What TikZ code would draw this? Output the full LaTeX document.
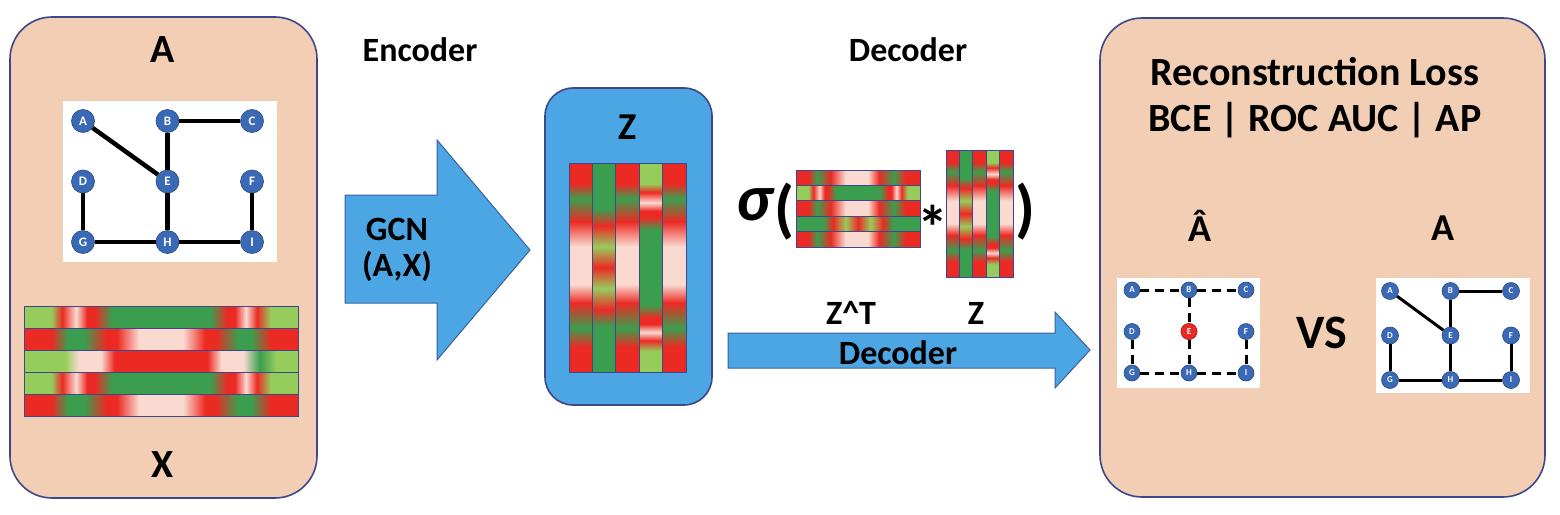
\documentclass[tikz,border=0pt]{standalone}
\usepackage{fontspec}
\setmainfont{Carlito}
\definecolor{peach}{RGB}{242,206,180}
\definecolor{navy}{RGB}{62,70,140}
\definecolor{skyblue}{RGB}{76,166,228}
\definecolor{arrowedge}{RGB}{58,96,158}
\definecolor{nodeblue}{RGB}{58,106,182}
\definecolor{hotred}{RGB}{236,42,36}
\definecolor{dkgreen}{RGB}{58,158,78}
\definecolor{ltgreen}{RGB}{150,204,92}
\definecolor{blush}{RGB}{250,218,208}
% stripe patterns (25bp..75bp span the cell)
\pgfdeclarehorizontalshading{xg}{100bp}{color(0bp)=(ltgreen); color(30bp)=(ltgreen); color(32bp)=(hotred); color(34.5bp)=(blush); color(36.5bp)=(hotred); color(38bp)=(hotred); color(41bp)=(dkgreen); color(59bp)=(dkgreen); color(62bp)=(hotred); color(63.5bp)=(hotred); color(65.5bp)=(blush); color(67.5bp)=(hotred); color(70bp)=(ltgreen); color(100bp)=(ltgreen)}
\pgfdeclarehorizontalshading{xr}{100bp}{color(0bp)=(hotred); color(30bp)=(hotred); color(33bp)=(dkgreen); color(36bp)=(dkgreen); color(40bp)=(hotred); color(42bp)=(hotred); color(46bp)=(blush); color(54bp)=(blush); color(58bp)=(hotred); color(60bp)=(hotred); color(64bp)=(dkgreen); color(66.5bp)=(dkgreen); color(70bp)=(hotred); color(100bp)=(hotred)}
\pgfdeclarehorizontalshading{xm}{100bp}{color(0bp)=(ltgreen); color(32.5bp)=(ltgreen); color(35bp)=(blush); color(39bp)=(blush); color(41.5bp)=(hotred); color(58.5bp)=(hotred); color(61bp)=(blush); color(65bp)=(blush); color(68bp)=(dkgreen); color(71bp)=(ltgreen); color(100bp)=(ltgreen)}
\pgfdeclarehorizontalshading{zr}{100bp}{color(0bp)=(hotred); color(30bp)=(hotred); color(33.5bp)=(dkgreen); color(39bp)=(hotred); color(45bp)=(blush); color(54bp)=(blush); color(58.5bp)=(hotred); color(64.5bp)=(dkgreen); color(69bp)=(hotred); color(100bp)=(hotred)}
\pgfdeclarehorizontalshading{zd}{100bp}{color(0bp)=(dkgreen); color(36bp)=(dkgreen); color(40bp)=(hotred); color(45bp)=(ltgreen); color(50bp)=(hotred); color(55bp)=(ltgreen); color(60bp)=(hotred); color(64bp)=(dkgreen); color(100bp)=(dkgreen)}

\begin{document}
\begin{tikzpicture}[x=1pt,y=-1pt,
  lbl/.style={font=\bfseries\fontsize{34}{36}\selectfont},
  biglbl/.style={font=\bfseries\fontsize{40}{42}\selectfont},
  panel/.style={fill=peach,draw=navy,line width=1.6pt,rounded corners=42pt},
  zbox/.style={fill=skyblue,draw=navy,line width=1.6pt,rounded corners=28pt},
  vtx/.style={circle,fill=nodeblue,draw=nodeblue!70!black,line width=0.6pt,text=white,inner sep=0pt},
  link/.style={line width=4.5pt},
  dlink/.style={line width=3pt,dash pattern=on 9pt off 6pt},
  cell/.style={draw=navy,line width=1pt},
  bluearrow/.style={fill=skyblue,draw=arrowedge,line width=1pt,line join=miter}]
  \useasboundingbox (0,0) rectangle (1560,514);
  % --- input panel ---
  \draw[panel] (10,17) rectangle (317,498);
  \node[biglbl] (lblA) at (163,50) {A};
  \node[biglbl] (lblX) at (163,465) {X};
  \fill[white] (63,101) rectangle (277,262);
  \begin{scope}[shift={(83,121)},x=84.5pt,y=-60.5pt]
    \foreach \n/\c/\r in {A/0/0,B/1/0,C/2/0,D/0/1,E/1/1,F/2/1,G/0/2,H/1/2,I/2/2}
      \node[vtx,minimum size=23pt,font=\bfseries\fontsize{13}{13}\selectfont] (in\n) at (\c,\r) {\n};
  \end{scope}
  \foreach \u/\v in {A/E,B/C,B/E,E/H,D/G,G/H,H/I,F/I} \draw[link] (in\u) -- (in\v);
  \foreach \s [count=\i from 0] in {xg,xr,xm,xg,xr}
    \shadedraw[shading=\s,cell] (24,{306+22*\i}) rectangle (298,{328+22*\i});
  % --- encoder ---
  \node[lbl] (enc) at (420,50) {Encoder};
  \filldraw[bluearrow] (345,195) -- (437,195) -- (437,140) -- (530,250) -- (437,360) -- (437,303) -- (345,303) -- cycle;
  \node[lbl,align=center] (gcn) at (397,250) {GCN\\(A,X)};
  \draw[zbox] (545,88) rectangle (712,405);
  \node[font=\bfseries\fontsize{38}{40}\selectfont] (lblZ) at (628,127) {Z};
  \foreach \s [count=\i from 0] in {zr,zd,zr,xg,zr}
    \shadedraw[shading=\s,shading angle=270,cell] ({569+23.4*\i},163) rectangle ({592.4+23.4*\i},372);
  % --- decoder ---
  \node[lbl] (dec) at (908,50) {Decoder};
  \node[font=\bfseries\itshape\fontsize{66}{66}\selectfont,inner sep=0pt] (sig) at (754,205) {σ};
  \node[font=\bfseries\fontsize{64}{64}\selectfont,inner sep=0pt] (opar) at (784,212) {(};
  \foreach \s [count=\i from 0] in {zr,xg,zr,zd,zr}
    \shadedraw[shading=\s,cell] (796,{170+15.4*\i}) rectangle (920,{185.4+15.4*\i});
  \node[font=\bfseries\fontsize{62}{62}\selectfont,inner sep=0pt] (mul) at (933,227) {*};
  \foreach \s [count=\i from 0] in {zr,zd,zr,xg,zr}
    \shadedraw[shading=\s,shading angle=270,cell] ({946+13.4*\i},150) rectangle ({959.4+13.4*\i},277);
  \node[font=\bfseries\fontsize{64}{64}\selectfont,inner sep=0pt] (cpar) at (1025,212) {)};
  \node[lbl] (lblZT) at (851,313) {Z\textasciicircum T};
  \node[lbl] (lblZb) at (976,313) {Z};
  \filldraw[bluearrow] (728,333) -- (1055,333) -- (1055,312) -- (1090,350) -- (1055,388) -- (1055,368) -- (728,368) -- cycle;
  \node[lbl] (decarrow) at (898,353) {Decoder};
  % --- reconstruction panel ---
  \draw[panel] (1100,18) rectangle (1545,497);
  \node[biglbl] (loss) at (1315,72) {Reconstruction Loss};
  \node[biglbl] (metrics) at (1315,120) {BCE | ROC AUC | AP};
  \node[font=\bfseries\fontsize{38}{40}\selectfont] (lblAhat) at (1200,226) {Â};
  \node[font=\bfseries\fontsize{38}{40}\selectfont] (lblAtrue) at (1443,228) {A};
  \node[font=\bfseries\fontsize{48}{48}\selectfont] (vs) at (1322,333) {VS};
  \fill[white] (1117,278) rectangle (1260,388);
  \fill[white] (1376,278) rectangle (1530,393);
  \begin{scope}[shift={(1132,290)},x=57pt,y=-41.5pt]
    \foreach \n/\c/\r in {A/0/0,B/1/0,C/2/0,D/0/1,E/1/1,F/2/1,G/0/2,H/1/2,I/2/2}
      \node[vtx,minimum size=16pt,font=\bfseries\fontsize{9}{9}\selectfont] (p\n) at (\c,\r) {\n};
  \end{scope}
  \node[vtx,fill=hotred,draw=hotred!80!black,minimum size=16pt,font=\bfseries\fontsize{9}{9}\selectfont] at (pE) {E};
  \foreach \u/\v in {A/B,B/C,B/E,E/H,D/G,G/H,H/I,F/I} \draw[dlink] (p\u) -- (p\v);
  \begin{scope}[shift={(1390,291)},x=60.5pt,y=-44.5pt]
    \foreach \n/\c/\r in {A/0/0,B/1/0,C/2/0,D/0/1,E/1/1,F/2/1,G/0/2,H/1/2,I/2/2}
      \node[vtx,minimum size=17pt,font=\bfseries\fontsize{9}{9}\selectfont] (t\n) at (\c,\r) {\n};
  \end{scope}
  \foreach \u/\v in {A/E,B/C,B/E,E/H,D/G,G/H,H/I,F/I} \draw[link,line width=3pt] (t\u) -- (t\v);
\end{tikzpicture}
\end{document}
